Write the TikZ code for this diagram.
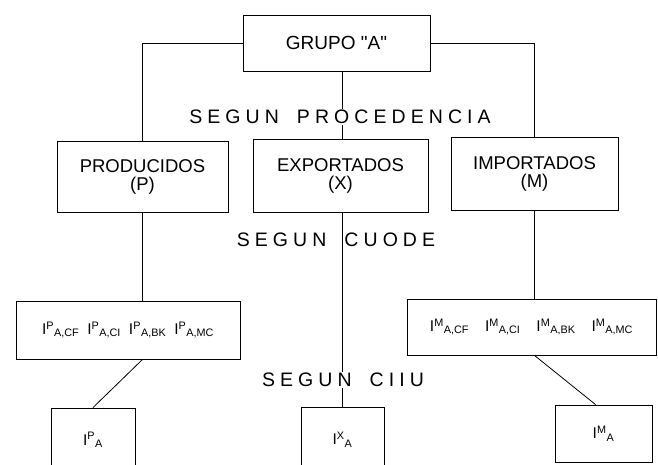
\documentclass[tikz,border=0pt]{standalone}
\usepackage{fontspec}
\setmainfont{Liberation Sans}
\newfontfamily\plainsans{Liberation Sans}
\newfontfamily\spacedfont[LetterSpace=26]{Liberation Sans}
\newcommand{\Ix}[2]{I\textsuperscript{#1}\textsubscript{#2}}
\begin{document}
\begin{tikzpicture}[x=1pt,y=-1pt,
  box/.style={draw, line width=0.9pt, inner sep=0pt, align=center,
    font=\plainsans\fontsize{18.5}{18}\selectfont},
  itembox/.style={draw, line width=0.9pt, inner sep=0pt, align=center,
    font=\plainsans\fontsize{15.5}{18}\selectfont},
  conn/.style={line width=0.8pt},
  caption/.style={inner sep=1pt, font=\spacedfont\fontsize{19.5}{20}\selectfont}]
\clip (0,0) rectangle (658,464);
\useasboundingbox (0,0) rectangle (658,464);
\coordinate (cx) at (342,0);
% boxes
\node[box, minimum width=187pt, minimum height=56pt, font=\plainsans\fontsize{19}{20}\selectfont] (grupo) at (336.5,43) {GRUPO "A"};
\node[box, minimum width=171pt, minimum height=71pt] (prod) at (142.5,176.5) {PRODUCIDOS\\(P)};
\node[box, minimum width=175pt, minimum height=73pt] (exp) at (340.5,175.5) {EXPORTADOS\\(X)};
\node[box, minimum width=167pt, minimum height=73pt] (imp) at (534.5,173.5) {IMPORTADOS\\(M)};
\node[itembox, minimum width=224pt, minimum height=58pt] (ll) at (128,330)
  {\Ix{P}{A,CF}\hspace{8pt}\Ix{P}{A,CI}\hspace{8pt}\Ix{P}{A,BK}\hspace{8pt}\Ix{P}{A,MC}};
\node[itembox, minimum width=249pt, minimum height=56pt] (lr) at (531.5,327)
  {\Ix{M}{A,CF}\hspace{16pt}\Ix{M}{A,CI}\hspace{16pt}\Ix{M}{A,BK}\hspace{16pt}\Ix{M}{A,MC}};
\node[itembox, minimum width=84pt, minimum height=64pt] (ipa) at (93,440) {\Ix{P}{A}};
\node[itembox, minimum width=83pt, minimum height=65pt] (ix) at (342.5,439.5) {\Ix{X}{A}};
\node[itembox, minimum width=97pt, minimum height=57pt] (ima) at (603.5,433.5) {\Ix{M}{A}};
% connectors
\draw[conn] (grupo.west) -| (prod.north);
\draw[conn] (grupo.east) -| (imp.north);
\draw[conn] (grupo.south -| cx) -- (exp.north -| cx);
\draw[conn] (exp.south -| cx) -- (ix.north -| cx);
\draw[conn] (prod.south) -- (prod.south |- ll.north);
\draw[conn] (imp.south) -- (imp.south |- lr.north);
\draw[conn] (prod.south |- ll.south) -- (ipa.north);
\draw[conn] (imp.south |- lr.south) -- ([xshift=-8pt]ima.north);
% captions
\node[caption, fill=white] (cproc) at (340,117) {SEGUN\hspace{18pt}PROCEDENCIA};
\node[caption] (ccuode) at (336,240) {SEGUN\hspace{18pt}CUODE};
\node[caption, fill=white] (cciiu) at (343,380) {SEGUN\hspace{18pt}CIIU};
\end{tikzpicture}
\end{document}
